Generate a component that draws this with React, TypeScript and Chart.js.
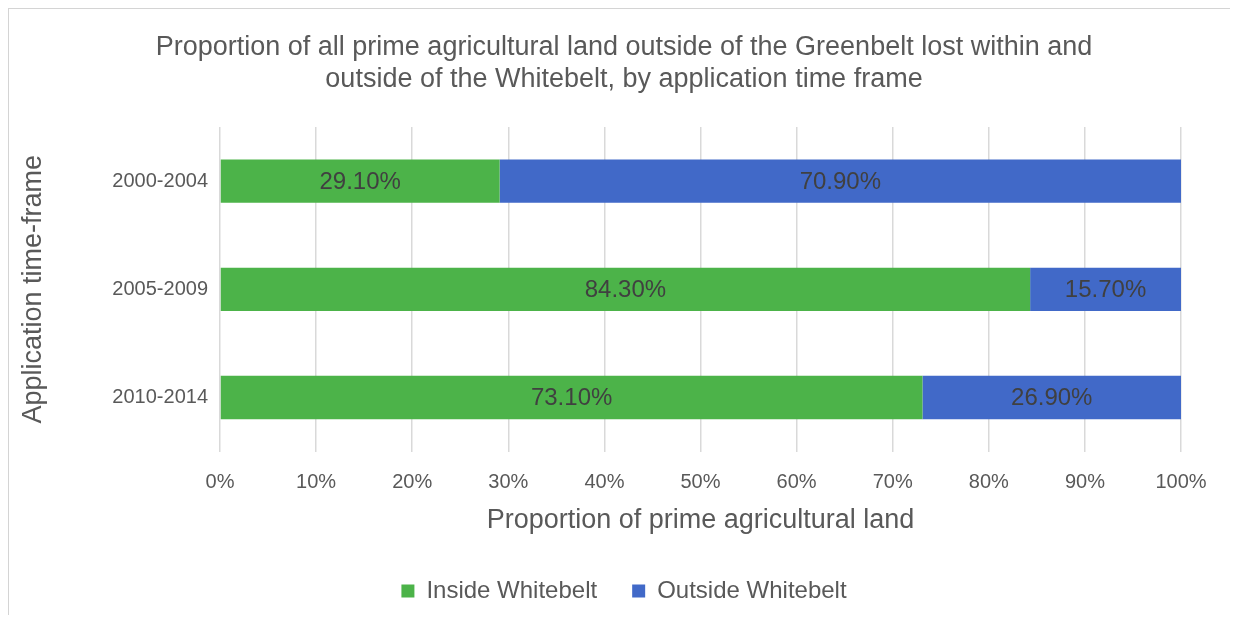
import React, { useEffect, useRef } from "react";
import { Chart, registerables } from "chart.js";

Chart.register(...registerables);

const categories = ["2000-2004", "2005-2009", "2010-2014"];
const insideWhitebelt = [29.1, 84.3, 73.1];
const outsideWhitebelt = [70.9, 15.7, 26.9];
const seriesNames = ["Inside Whitebelt", "Outside Whitebelt"];
const titleLines = [
  "Proportion of all prime agricultural land outside of the Greenbelt lost within and",
  "outside of the Whitebelt, by application time frame",
];
const xTitle = "Proportion of prime agricultural land";
const yTitle = "Application time-frame";

const FONT = "'Liberation Sans', Arial, Helvetica, sans-serif";
const TEXT = "#595959";

const barLabels = {
  id: "barLabels",
  afterDatasetsDraw(chart: any) {
    const ctx = chart.ctx;
    ctx.save();
    ctx.font = `24px ${FONT}`;
    ctx.fillStyle = "#404040";
    ctx.textAlign = "center";
    ctx.textBaseline = "middle";
    chart.data.datasets.forEach((ds: any, di: number) => {
      const meta = chart.getDatasetMeta(di);
      meta.data.forEach((bar: any, i: number) => {
        const v = ds.data[i];
        const cx = (bar.x + bar.base) / 2;
        ctx.fillText(v.toFixed(2) + "%", cx, bar.y + 1);
      });
    });
    ctx.restore();
  },
};

export default function App() {
  const ref = useRef<HTMLCanvasElement>(null);
  useEffect(() => {
    if (!ref.current) return;
    const chart = new Chart(ref.current, {
      type: "bar",
      data: {
        labels: categories,
        datasets: [
          {
            label: seriesNames[0],
            data: insideWhitebelt,
            backgroundColor: "#4CB349",
            barPercentage: 0.8,
            categoryPercentage: 0.5,
          },
          {
            label: seriesNames[1],
            data: outsideWhitebelt,
            backgroundColor: "#4169C8",
            barPercentage: 0.8,
            categoryPercentage: 0.5,
          },
        ],
      },
      options: {
        indexAxis: "y",
        animation: false,
        responsive: true,
        maintainAspectRatio: false,
        layout: { padding: { left: 58, right: 49, top: 0, bottom: 2 } },
        scales: {
          x: {
            stacked: true,
            min: 0,
            max: 100,
            ticks: {
              stepSize: 10,
              padding: 19,
              color: TEXT,
              font: { family: FONT, size: 20 },
              callback: (v: any) => v + "%",
            },
            grid: { color: "#d9d9d9", lineWidth: 1.5, drawTicks: false },
            border: { display: false },
            title: {
              display: true,
              text: xTitle,
              color: TEXT,
              font: { family: FONT, size: 27, lineHeight: 1.2 },
              padding: { top: -9, bottom: 7 },
            },
          },
          y: {
            stacked: true,
            ticks: {
              padding: 12,
              color: TEXT,
              font: { family: FONT, size: 20 },
            },
            grid: { display: false, drawTicks: false },
            border: { display: false },
            title: {
              display: true,
              text: yTitle,
              color: TEXT,
              font: { family: FONT, size: 27, lineHeight: 1.2 },
              padding: { top: -50, bottom: 0 },
            },
            afterFit: (s: any) => {
              s.width = 153;
            },
          },
        },
        plugins: {
          title: {
            display: true,
            text: titleLines,
            color: TEXT,
            font: { family: FONT, size: 27, weight: "normal", lineHeight: 1.185 },
            padding: { top: 23, bottom: 31 },
          },
          legend: {
            position: "bottom",
            labels: {
              color: TEXT,
              font: { family: FONT, size: 24 },
              boxWidth: 13,
              boxHeight: 13,
              padding: 35,
            },
          },
          tooltip: { enabled: false },
        },
      },
      plugins: [barLabels],
    });
    return () => chart.destroy();
  }, []);
  return (
    <div
      style={{
        width: 1222,
        height: 607,
        position: "relative",
        borderTop: "1px solid #d4d4d4",
        borderLeft: "1px solid #d4d4d4",
        boxSizing: "border-box",
      }}
    >
      <canvas ref={ref} />
    </div>
  );
}
